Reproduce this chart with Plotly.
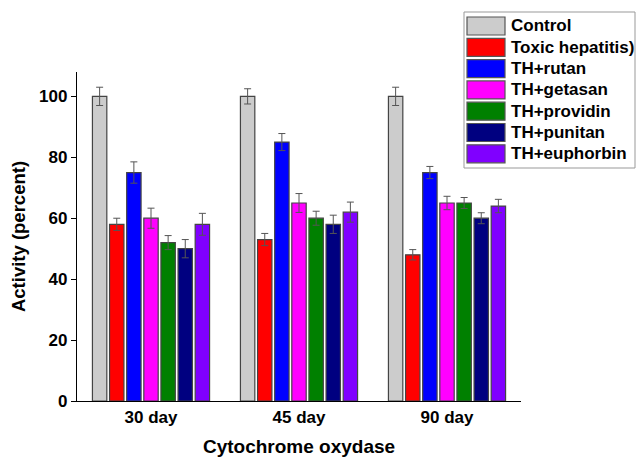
import plotly.graph_objects as go

categories = ["30 day", "45 day", "90 day"]
series_names = ["Control", "Toxic hepatitis)", "TH+rutan", "TH+getasan",
                "TH+providin", "TH+punitan", "TH+euphorbin"]
series_colors = ["#CCCCCC", "#FF0000", "#0000FF", "#FF00FF",
                 "#008000", "#000080", "#8000FF"]

control = [100, 100, 100]
toxic = [58, 53, 48]
rutan = [75, 85, 75]
getasan = [60, 65, 65]
providin = [52, 60, 65]
punitan = [50, 58, 60]
euphorbin = [58, 62, 64]

control_err = [3, 2.5, 3]
toxic_err = [2, 2, 1.7]
rutan_err = [3.5, 2.8, 2]
getasan_err = [3.3, 3.1, 2.2]
providin_err = [2.3, 2.3, 1.8]
punitan_err = [3, 3, 1.8]
euphorbin_err = [3.6, 3.3, 2.2]

values = [control, toxic, rutan, getasan, providin, punitan, euphorbin]
errors = [control_err, toxic_err, rutan_err, getasan_err, providin_err,
          punitan_err, euphorbin_err]

FONT = "Arial, Liberation Sans, sans-serif"
W, H = 637, 457
ML, MR, MT, MB = 77, 116, 72, 56
PW, PH = W - ML - MR, H - MT - MB


def px_x(px):
    return (px - ML) / PW


def px_y(py):
    return (H - MB - py) / PH


fig = go.Figure()
for name, color, vals, errs in zip(series_names, series_colors, values, errors):
    fig.add_trace(go.Bar(
        x=categories, y=vals, name=name, showlegend=False,
        marker=dict(color=color, line=dict(color="#444444", width=1.2)),
        error_y=dict(type="data", array=errs, visible=True,
                     color="#555555", thickness=1, width=3.5),
    ))

# custom legend box (styling only, labels from series_names)
shapes = [dict(type="rect", xref="paper", yref="paper",
               x0=px_x(464), x1=px_x(635), y0=px_y(168), y1=px_y(12),
               line=dict(color="#999999", width=1), fillcolor="white",
               layer="above")]
annotations = []
for i, (name, color) in enumerate(zip(series_names, series_colors)):
    cy = 26 + i * 21.3
    shapes.append(dict(type="rect", xref="paper", yref="paper",
                       x0=px_x(467), x1=px_x(505),
                       y0=px_y(cy + 9), y1=px_y(cy - 9),
                       line=dict(color="#555555", width=1.2),
                       fillcolor=color, layer="above"))
    annotations.append(dict(xref="paper", yref="paper", x=px_x(509),
                            y=px_y(cy), text=name, showarrow=False,
                            xanchor="left", yanchor="middle",
                            font=dict(family=FONT, size=17, color="black",
                                      weight="bold")))

fig.update_layout(
    width=W, height=H,
    margin=dict(l=ML, r=MR, t=MT, b=MB),
    paper_bgcolor="white", plot_bgcolor="white",
    barmode="group", bargap=0.19, bargroupgap=0.16,
    font=dict(family=FONT, color="black"),
    showlegend=False,
    shapes=shapes, annotations=annotations,
    xaxis=dict(
        showline=True, linecolor="black", linewidth=1.2,
        ticks="", showgrid=False, automargin=False,
        tickfont=dict(family=FONT, size=17, weight="bold"),
        title=dict(text="Cytochrome oxydase",
                   font=dict(family=FONT, size=19, weight="bold"),
                   standoff=14),
    ),
    yaxis=dict(
        range=[0, 108], showline=True, linecolor="black", linewidth=1.2,
        ticks="outside", ticklen=5, tickcolor="black", automargin=False,
        tickvals=[0, 20, 40, 60, 80, 100], showgrid=False, zeroline=False,
        tickfont=dict(family=FONT, size=17, weight="bold"),
        title=dict(text="Activity (percent)",
                   font=dict(family=FONT, size=18.5, weight="bold"),
                   standoff=8),
    ),
)

fig.write_html(
    "out.html",
    config={"displayModeBar": False, "staticPlot": True},
    post_script="document.body.style.margin='0';document.body.style.overflow='hidden';",
)
